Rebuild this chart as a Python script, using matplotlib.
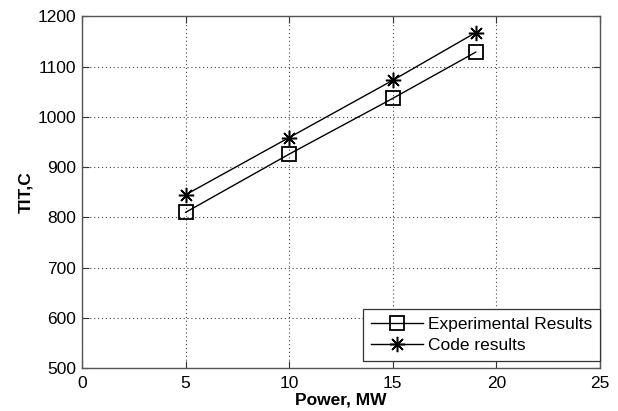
import matplotlib.pyplot as plt

plt.rcParams['font.family'] = ['Liberation Sans', 'DejaVu Sans']

# -----------------------------
# Data
# -----------------------------
power = [5, 10, 15, 19]
tit_experimental = [810, 926, 1037, 1129]
tit_code = [845, 959, 1073, 1168]

xticks = [0, 5, 10, 15, 20, 25]
yticks = [500, 600, 700, 800, 900, 1000, 1100, 1200]

# -----------------------------
# Plot
# -----------------------------
fig = plt.figure(figsize=(6.18, 4.11), dpi=100)
ax = fig.add_axes([0.1327, 0.1046, 0.8383, 0.8553])

ax.plot(power, tit_experimental, color="k", lw=1.0, marker="s", markersize=10,
        markerfacecolor="none", markeredgewidth=1.3, label="Experimental Results")
ax.plot(power, tit_code, color="k", lw=1.0, marker=(8, 2, 0), markersize=11,
        markeredgewidth=1.1, label="Code results")

ax.set_xlim(0, 25)
ax.set_ylim(500, 1200)
ax.set_xticks(xticks)
ax.set_yticks(yticks)
ax.tick_params(direction="in", top=True, right=True, labelsize=12.5, length=5,
               color="#333333", pad=4)
ax.tick_params(axis="x", pad=6)
for s in ax.spines.values():
    s.set_color("#555555")
    s.set_linewidth(1.0)

ax.grid(True, linestyle=(0, (1, 2.5)), color="#444444", linewidth=0.8)

ax.set_xlabel("Power, MW", fontsize=12.5, fontweight="bold", labelpad=1)
ax.set_ylabel("TIT,C", fontsize=12.5, fontweight="bold", labelpad=3)

leg = ax.legend(loc="lower right", bbox_to_anchor=(1.0, 0.02), fontsize=12.5,
                fancybox=False, framealpha=1, edgecolor="#333333",
                borderaxespad=0.0, handlelength=3.0, handletextpad=0.3,
                borderpad=0.45, labelspacing=0.35)
leg.get_frame().set_linewidth(0.9)

plt.savefig("out.png", dpi=100)
